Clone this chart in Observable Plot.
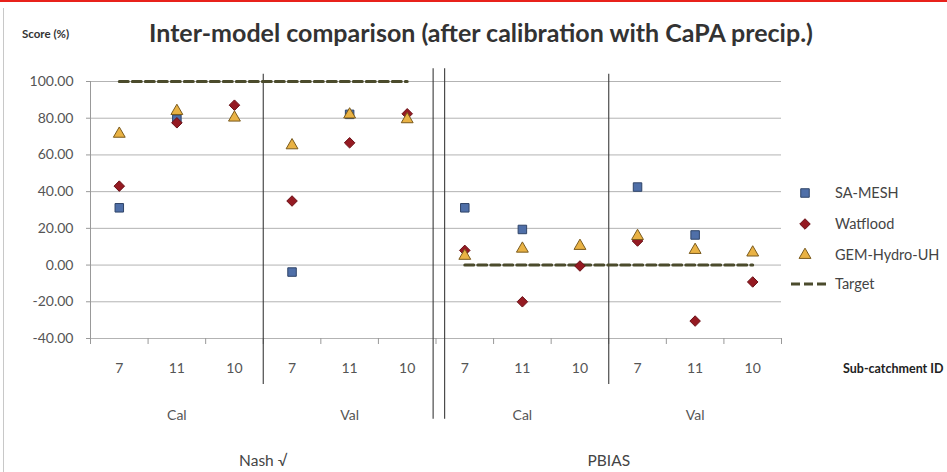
<!DOCTYPE html>
<html>
<head>
<meta charset="utf-8">
<script src="https://cdn.jsdelivr.net/npm/d3@7"></script>
<script src="https://cdn.jsdelivr.net/npm/@observablehq/plot@0.6"></script>
<style>
  body { margin: 0; background: #fff; }
  #wrap { position: relative; width: 947px; height: 472px; overflow: hidden; font-family: Lato, "Open Sans", sans-serif; background: #fff; }
  #topline { position: absolute; left: 0; top: 0; width: 947px; height: 2px; background: #e8211b; }
  #leftline { position: absolute; left: 3px; top: 8px; width: 1px; height: 464px; background: #c8c8c8; }
  #title { position: absolute; left: 149px; top: 17px; font-size: 25px; font-weight: 700; color: #333; white-space: nowrap; }
  #ylabel { position: absolute; left: 22px; top: 27px; font-size: 11.5px; font-weight: 700; color: #333; white-space: nowrap; }
  #chart { position: absolute; left: 0; top: 50px; }
  #xname { position: absolute; left: 843px; top: 361px; font-size: 12.5px; font-weight: 700; color: #222; white-space: nowrap; }
  #legend { position: absolute; left: 0; top: 0; }
</style>
</head>
<body>
<div id="wrap">
  <div id="topline"></div>
  <div id="leftline"></div>
  <div id="title">Inter-model comparison (after calibration with CaPA precip.)</div>
  <div id="ylabel">Score (%)</div>
  <div id="chart"></div>
  <div id="xname">Sub-catchment ID</div>
  <svg id="legend" width="947" height="472"></svg>
</div>
<script>
// ---- data ----
const categories = ["7", "11", "10", "7", "11", "10", "7", "11", "10", "7", "11", "10"];
const phases = ["Cal", "Val", "Cal", "Val"];
const phaseCenters = [1, 4, 7, 10];
const metrics = ["Nash \u221A", "PBIAS"];
const metricCenters = [2.5, 8.5];
const seriesNames = ["SA-MESH", "Watflood", "GEM-Hydro-UH"];
const saMesh   = [31.2, 79.4, null, -3.8, 82.1, null, 31.2, 19.4, null, 42.5, 16.4, null];
const watflood = [43.0, 77.5, 87.1, 34.9, 66.6, 82.4, 8.0, -20.0, -0.5, 13.1, -30.5, -9.2];
const gemHydro = [71.5, 83.9, 80.3, 65.2, 82.0, 79.4, 5.0, 8.9, 10.4, 15.8, 8.2, 6.8];
const target   = [100, 100, 100, 100, 100, 100, 0, 0, 0, 0, 0, 0];
const targetGroup = ["Nash", "Nash", "Nash", "Nash", "Nash", "Nash", "PBIAS", "PBIAS", "PBIAS", "PBIAS", "PBIAS", "PBIAS"];
const yTicks = [-40, -20, 0, 20, 40, 60, 80, 100];

// divider lines (category-position, extent in score units)
const dividers = [
  {x: 2.5, y1: -65, y2: 104},
  {x: 5.45, y1: -84, y2: 107},
  {x: 5.65, y1: -84, y2: 107},
  {x: 8.5, y1: -65, y2: 104}
];

// ---- styles ----
const colors = {
  "SA-MESH": {fill: "#4f6fa8", stroke: "#2f4468"},
  "Watflood": {fill: "#951a22", stroke: "#6a1016"},
  "GEM-Hydro-UH": {fill: "#e9b244", stroke: "#7a5a1c"}
};
const diamondSym = {
  draw(ctx, size) {
    const r = Math.sqrt(size / 2);
    ctx.moveTo(0, -r); ctx.lineTo(r, 0); ctx.lineTo(0, r); ctx.lineTo(-r, 0); ctx.closePath();
  }
};
const symbols = {"SA-MESH": d3.symbolSquare, "Watflood": diamondSym, "GEM-Hydro-UH": d3.symbolTriangle};
const radii = {"SA-MESH": 4.8, "Watflood": 4.2, "GEM-Hydro-UH": 4.4};

const seriesValues = [saMesh, watflood, gemHydro];
const idx = d3.range(categories.length);
const points = seriesNames.flatMap((s, k) =>
  idx.map(i => ({series: s, i, v: seriesValues[k][i]})).filter(d => d.v != null));
const targetRows = idx.map(i => ({i, v: target[i], g: targetGroup[i]}));

const dotMarks = seriesNames.map(s =>
  Plot.dot(points.filter(d => d.series === s), {
    x: "i", y: "v", symbol: () => symbols[s], r: radii[s],
    fill: colors[s].fill, stroke: colors[s].stroke, strokeWidth: 1
  }));

const font = "Lato, 'Open Sans', sans-serif";
const chart = Plot.plot({
  width: 947,
  height: 422,
  marginTop: 31,
  marginBottom: 134,
  marginLeft: 90,
  marginRight: 166,
  x: {domain: [-0.5, categories.length - 0.5], axis: null},
  y: {domain: [-40, 100], axis: null},
  symbol: {type: "identity"},
  style: {fontFamily: font, fontSize: "14px", color: "#555", background: "transparent", overflow: "visible"},
  marks: [
    Plot.ruleY(yTicks, {stroke: "#b3b3b3", strokeWidth: 1}),
    Plot.ruleX([-0.5], {y1: -40, y2: 100, stroke: "#999"}),
    Plot.axisY({ticks: yTicks, tickSize: 4, tickPadding: 13, tickFormat: d => d.toFixed(2), label: null, stroke: "#999", fontSize: 14}),
    Plot.axisX({ticks: d3.range(-0.5, categories.length, 1), tickSize: 6, tickFormat: () => "", label: null, stroke: "#999"}),
    Plot.axisX({ticks: idx, tickSize: 0, tickPadding: 25, tickFormat: i => categories[i], label: null, fontSize: 14, fill: "#555"}),
    Plot.ruleX(dividers, {x: "x", y1: "y1", y2: "y2", stroke: "#3a3a3a", strokeWidth: 1.1}),
    Plot.lineY(targetRows, {x: "i", y: "v", z: "g", stroke: "#4b4b2c", strokeWidth: 3, strokeDasharray: "9,4"}),
    ...dotMarks,
    Plot.text(phases, {x: (d, j) => phaseCenters[j], frameAnchor: "bottom", lineAnchor: "middle", dy: 77, text: d => d, fill: "#555", fontSize: 14}),
    Plot.text(metrics, {x: (d, j) => metricCenters[j], frameAnchor: "bottom", lineAnchor: "middle", dy: 123, text: d => d, fill: "#444", fontSize: 15.5})
  ]
});
document.getElementById("chart").appendChild(chart);

// ---- legend ----
const leg = d3.select("#legend");
const legRows = [...seriesNames.map(s => ({name: s, kind: "dot"})), {name: "Target", kind: "line"}];
const legY = [193, 224, 255, 284];
legRows.forEach((d, j) => {
  const y = legY[j];
  if (d.kind === "dot") {
    const size = Math.PI * radii[d.name] * radii[d.name];
    leg.append("path")
      .attr("transform", `translate(805,${y})`)
      .attr("d", d3.symbol(symbols[d.name], size)())
      .attr("fill", colors[d.name].fill)
      .attr("stroke", colors[d.name].stroke);
  } else {
    leg.append("line").attr("x1", 791).attr("x2", 827).attr("y1", y).attr("y2", y)
      .attr("stroke", "#4b4b2c").attr("stroke-width", 3).attr("stroke-dasharray", "9,4");
  }
  leg.append("text").attr("x", 835).attr("y", y).attr("dy", "0.35em")
    .attr("font-family", font).attr("font-size", 14.5).attr("fill", "#444")
    .text(d.name);
});
</script>
</body>
</html>
